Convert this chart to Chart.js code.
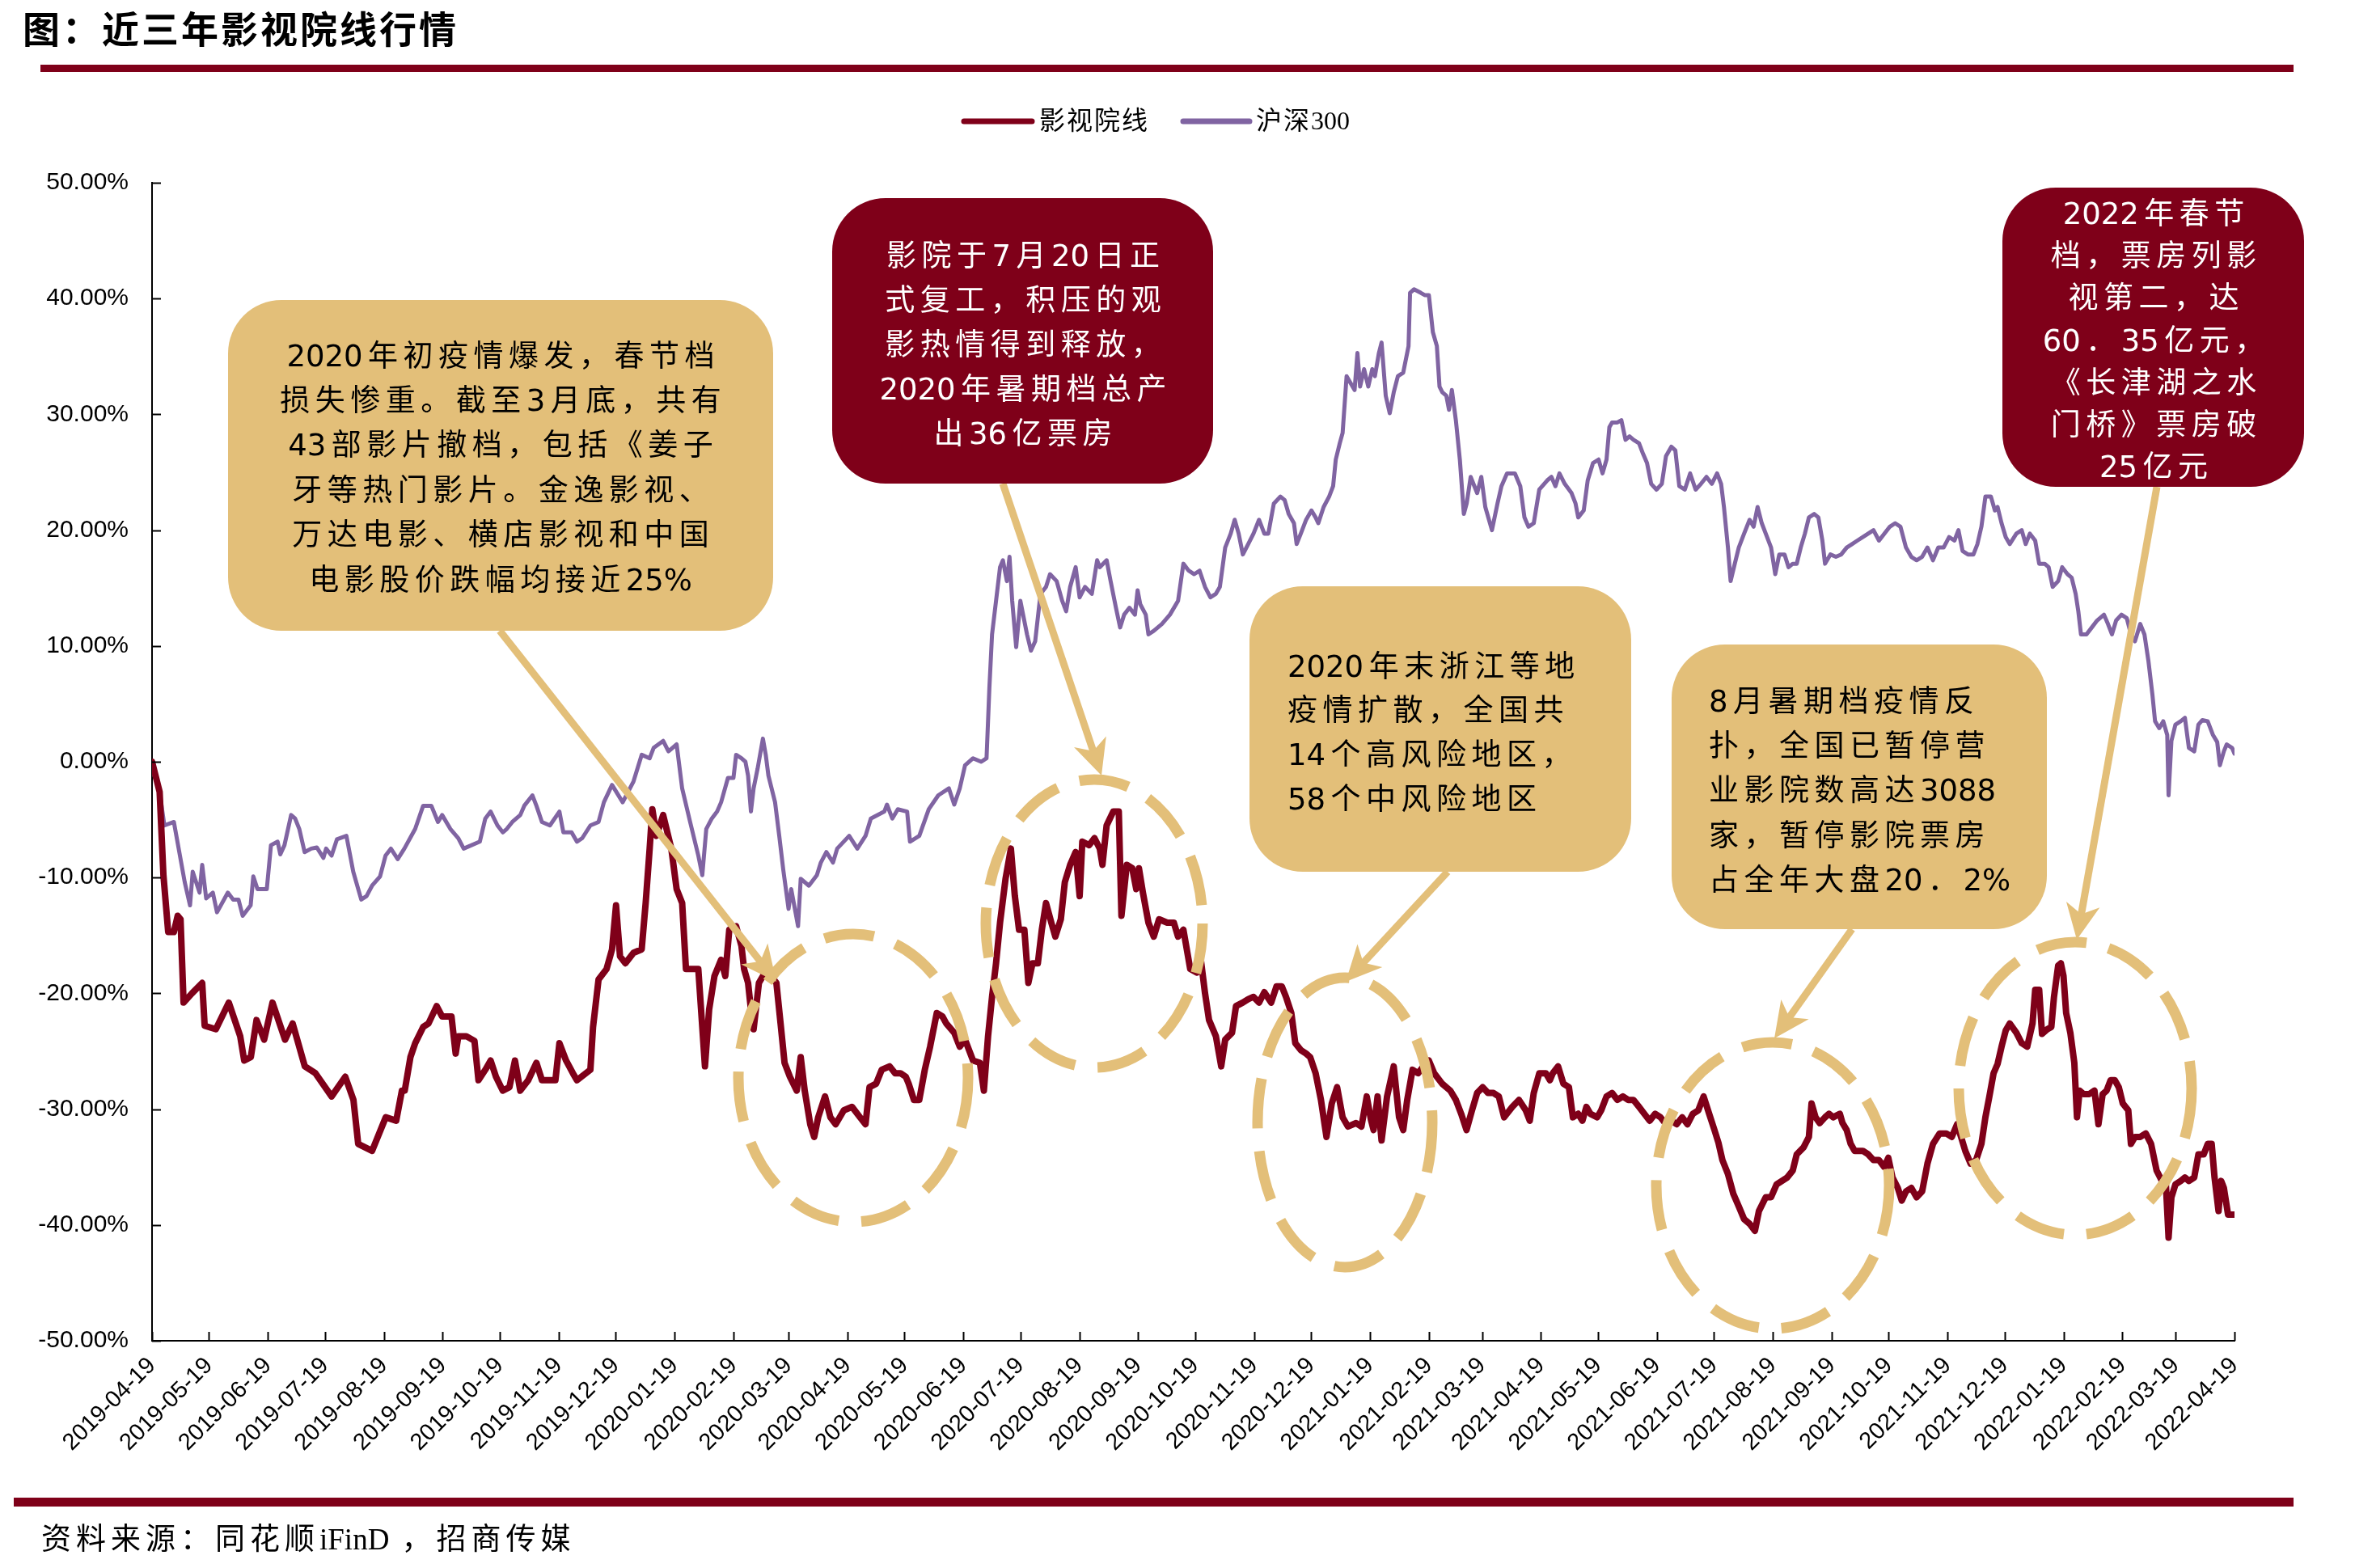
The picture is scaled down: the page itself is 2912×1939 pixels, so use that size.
<!DOCTYPE html>
<html>
<head>
<meta charset="utf-8">
<script src="https://cdn.jsdelivr.net/npm/chart.js@4.4.1/dist/chart.umd.min.js"></script>
<style>
  html, body { margin: 0; padding: 0; background: #fff; }
  #wrap { width: 2912px; height: 1939px; }
</style>
</head>
<body>
<div id="wrap"><canvas id="chart" width="2912" height="1939"></canvas></div>
<script>
// 起始日期，横轴按自然日计
const startDate = '2019-04-19';

const tickLabels = [
  '2019-04-19','2019-05-19','2019-06-19','2019-07-19','2019-08-19','2019-09-19','2019-10-19','2019-11-19','2019-12-19',
  '2020-01-19','2020-02-19','2020-03-19','2020-04-19','2020-05-19','2020-06-19','2020-07-19','2020-08-19','2020-09-19',
  '2020-10-19','2020-11-19','2020-12-19','2021-01-19','2021-02-19','2021-03-19','2021-04-19','2021-05-19','2021-06-19',
  '2021-07-19','2021-08-19','2021-09-19','2021-10-19','2021-11-19','2021-12-19','2022-01-19','2022-02-19','2022-03-19',
  '2022-04-19'
];

// [距起始日天数, 累计涨跌幅%]
const cinemaPoints = [
  [0,0],[4,-2.6],[6,-9.8],[8.5,-14.7],[11.5,-14.7],[13.5,-13.3],[15,-13.6],[16.6,-20.8],[21,-20],[26.4,-19.1],[27.7,-22.8],[33.6,-23.1],[40.4,-20.8],[46.4,-23.7],[48.5,-25.8],[52,-25.5],[55,-22.3],[59,-24],[63.4,-20.8],[70,-24],[74,-22.6],[80.4,-26.3],[86,-26.9],[94.5,-28.9],[101.7,-27.2],[106,-29.2],[108.5,-33],[115.8,-33.6],[123,-30.7],[128.5,-31],[131.5,-28.4],[133,-28.4],[136,-25.5],[138.5,-24.3],
  [142.7,-22.9],[145.5,-22.6],[149.8,-21.1],[152.7,-22],[155.5,-22],[157.6,-22],[159.8,-25.2],[161.2,-23.7],[165.4,-23.7],[169.7,-24.1],[171.8,-27.5],[175.4,-26.6],[178.2,-25.8],[181,-27.2],[184.6,-28.4],[188.1,-28.1],[191,-25.8],[193.8,-28.4],[198,-27.5],[202.3,-26],[205.2,-27.5],[209.4,-27.5],[212.3,-27.5],[214.4,-24.3],[217.9,-25.8],[221.5,-26.9],[223.6,-27.5],[230.7,-26.6],[232.1,-22.9],[235,-18.8],[239.2,-17.9],[242.1,-16.2],[244.2,-12.4],[246.3,-16.8],[249.1,-17.4],[253.4,-16.5],[257.7,-16.2],[259.8,-12.2],[261.9,-7.5],[263.3,-4.1],[265.5,-6.4],[269,-4.6],
  [273.3,-7.5],[276.1,-11],[279,-12.2],[281,-17.9],[286.1,-17.9],[287.5,-17.9],[291,-26.3],[293.2,-21.4],[296,-18.5],[299.5,-17.1],[301.7,-18.5],[303.8,-14.5],[307.4,-14.2],[310.2,-15.9],[311.6,-17.9],[313.7,-19.1],[315.2,-21.4],[316.6,-23.1],[319.4,-19.1],[321.5,-18.5],[324.4,-18.2],[328.6,-19.1],[330.8,-22.6],[332.9,-26],[335.7,-27.2],[339.3,-28.4],[341.4,-25.5],[343.5,-28.4],[346.4,-31.3],[348.5,-32.4],[350.6,-30.7],[354.2,-28.9],[357,-30.7],[359.8,-31.3],[364.1,-30.1],[368.4,-29.8],[372.6,-30.7],[375.5,-31.3],[377.6,-28.1],[381.1,-27.8],[384,-26.6],[388.2,-26.3],[391.1,-26.9],[393.9,-26.9],[396.7,-27.2],[398.2,-27.8],[401,-29.2],[403.8,-29.2],[406.7,-26.6],[409.5,-24.6],[413,-21.7],
  [416,-22],[418,-22.6],[422.2,-23.4],[425.1,-24.6],[427.9,-24],[432.1,-25.8],[435.7,-26],[437.8,-28.4],[440,-23.7],[442.1,-20.3],[444.2,-17.4],[446.3,-13.9],[449.2,-10.1],[452,-7.5],[454.1,-11.6],[456.3,-14.5],[459.1,-14.5],[461.2,-19.1],[463.4,-17.4],[466.2,-17.4],[468.3,-14.5],[470.5,-12.2],[473.3,-13.9],[475.4,-15.1],[478.3,-13.6],[480.4,-10.4],[483.2,-8.9],[486.1,-7.8],[488.2,-11.6],[489.6,-6.9],[493.2,-7.2],[496,-6.6],[498.8,-7.5],[500.2,-8.9],[502.4,-5.5],[505.9,-4.3],[508.8,-4.3],[510.2,-13.3],[513,-8.9],[515.9,-9.2],[518,-11],[519.4,-9.2],[521.5,-11.3],[524.4,-13.9],[527.2,-15.1],[530,-13.6],[534.3,-13.9],[537.8,-13.9],[540,-15.1],[542.8,-14.5],[546.4,-17.9],[549.9,-18.2],[552,-17.1],[554.2,-20],[556.3,-22.3],
  [559.9,-23.7],[562.7,-26.3],[564.8,-24],[568.4,-23.4],[570.5,-21.1],[574,-20.8],[576.9,-20.5],[579.7,-20.3],[582.6,-20.8],[585.4,-19.9],[589,-20.8],[591.8,-19.4],[594.6,-19.4],[596.8,-20.3],[599.6,-21.7],[601.7,-24.3],[604.6,-24.9],[607.4,-25.2],[609.5,-25.5],[612.4,-26.9],[615.2,-29.2],[618.1,-32.4],[620.9,-29.5],[623.7,-28.1],[626.6,-30.7],[629.4,-31.5],[633.7,-31.2],[636.5,-31.5],[639.3,-28.9],[641.5,-30.9],[642.9,-31.8],[645,-28.9],[647.1,-32.7],[650,-28.9],[653.5,-26.3],[656.3,-30.7],[658.5,-31.8],[660.6,-29.2],[663.4,-26.6],[666.3,-26.9],[669.1,-26.3],[672,-25.8],[674.8,-26.9],[679,-27.8],[683.3,-28.4],[686.2,-29.2],[689,-30.4],[691.8,-31.8],[694.7,-30.1],
  [697.4,-28.6],[700.3,-28.1],[703.1,-28.6],[706,-28.6],[708.8,-28.9],[711.6,-30.7],[715.9,-29.8],[719.4,-29.2],[723,-30.1],[725.1,-31],[727.2,-28.6],[730.1,-26.9],[733.6,-26.9],[735.7,-27.5],[737.2,-26.9],[740,-26.3],[742.8,-27.8],[745.7,-28.1],[747.8,-30.7],[750.6,-30.4],[752.8,-31],[754.9,-29.8],[757,-30.4],[760.6,-30.7],[762.7,-30.1],[765.5,-28.9],[768.4,-28.6],[771.2,-29.2],[774.1,-28.9],[776.9,-29.2],[779.7,-29.2],[782.6,-29.8],[785.4,-30.4],[788.2,-31],[791.1,-30.4],[793.9,-30.7],[796.8,-31.3],[799.6,-31],[802.4,-31.3],[805.3,-30.7],[808.1,-31.3],[810.9,-30.4],[813.8,-30.1],[816.6,-28.9],[819.5,-30.4],[822.3,-31.8],[824.4,-32.9],[826.5,-34.4],[829.4,-35.6],[832.2,-37.3],[835.1,-38.4],[837.9,-39.5],
  [840.8,-39.9],[843.6,-40.5],[845.7,-38.8],[849.3,-37.6],[852.1,-37.6],[855,-36.5],[857.8,-36.2],[860.6,-35.9],[863.5,-35.3],[865.6,-33.9],[869.2,-33.3],[872,-32.4],[873.4,-29.5],[875.5,-30.7],[877.7,-31.2],[880.5,-30.7],[882.6,-30.4],[884.8,-30.7],[888.3,-30.4],[889.7,-31.2],[891.9,-31.8],[894,-33],[896.1,-33.6],[900.4,-33.6],[903.2,-33.9],[906,-34.4],[908.9,-34.4],[911.7,-35],[913.8,-34.2],[916,-35.9],[918.8,-36.8],[920.9,-37.9],[923.1,-37.1],[925.9,-36.8],[928.7,-37.6],[931.6,-37.1],[934.4,-34.7],[937.3,-33],[940.8,-32.1],[944.3,-32.1],[947.2,-32.4],[950,-31.3],[952.1,-32.4],[954.3,-33.6],[957.1,-34.7],[960,-34.4],[962.8,-33],[964.9,-30.7],[967,-28.9],[969.2,-26.9],[971.3,-26.1],[973.4,-24.6],[975.6,-23.2],[977.7,-22.6],
  [981.2,-23.4],[984,-24.3],[986.9,-24.6],[989.7,-22.6],[991.1,-19.7],[993.2,-19.7],[994.7,-23.5],[997.5,-23.1],[999.6,-22.9],[1001,-20.3],[1003.2,-17.6],[1004.6,-17.4],[1006,-18.5],[1007.4,-21.7],[1009.6,-23.4],[1011.7,-26],[1013.1,-30.7],[1014.5,-28.4],[1016.6,-28.7],[1019.5,-28.7],[1022.3,-28.4],[1024.4,-31.3],[1026.6,-28.7],[1028.7,-28.4],[1030.8,-27.5],[1033,-27.5],[1035.1,-28.1],[1037.2,-29.5],[1040.1,-30.1],[1041.5,-33],[1043.6,-32.4],[1046.4,-32.4],[1049.3,-32.1],[1052.1,-33],[1055,-35.3],[1057.8,-36.2],[1059.9,-36.5],[1061.3,-41.1],[1062.8,-37.6],[1064.9,-36.5],[1067.7,-36.2],[1069.9,-35.9],[1072,-36.2],[1074.8,-35.9],[1077,-33.9],[1079.8,-33.9],[1081.9,-33],[1084,-33],[1085.5,-35.9],[1087.6,-38.8],[1089,-36.2],[1090.4,-36.8],[1092.6,-39.1],[1094.7,-39.1],[1096,-39.1]
];

const hs300Points = [
  [0,0],[1,-1.1],[3.7,-2.3],[6.5,-5.5],[11.5,-5.2],[17.2,-10.4],[20,-12.4],[21.4,-9.5],[25,-11.3],[26.4,-8.9],[28.5,-11.8],[32,-11.3],[34.2,-13],[39.9,-11.3],[42.7,-11.9],[45.5,-11.9],[47.7,-13.3],[51.9,-12.4],[53.3,-9.9],[55.5,-11],[60.4,-11],[62.6,-7.2],[66.1,-6.9],[67.5,-8],[69.7,-7.2],[73.2,-4.6],[75.3,-4.9],[77.5,-5.8],[80.3,-7.8],[83.8,-7.5],[86.7,-7.4],[90.2,-8.3],[91.6,-7.5],[94.5,-8.1],[97.3,-6.7],[102.3,-6.4],[105.9,-9.5],[110.1,-11.9],[112.9,-11.6],[115.8,-10.7],[120,-9.9],[122.9,-8.1],[125.7,-7.5],[129.3,-8.4],[132.8,-7.5],
  [138.5,-5.8],[142.7,-3.8],[147,-3.8],[150.5,-5.2],[152.7,-4.6],[157,-5.8],[161.2,-6.6],[164,-7.5],[172.5,-6.9],[175.4,-4.9],[178.2,-4.3],[181.8,-5.5],[184.6,-6.1],[186.7,-5.8],[189.6,-5.2],[193.8,-4.6],[195.9,-3.8],[200.2,-2.9],[202.3,-3.8],[205.2,-5.2],[209.4,-5.5],[214.4,-4.3],[216.5,-6.1],[220.8,-6.1],[223.6,-6.9],[226.4,-6.6],[230.7,-5.5],[235,-5.2],[237.8,-3.5],[242.1,-2],[247.7,-3.5],[253.4,-1.7],[257.7,0.6],[261.9,0.3],[264,1.2],[269,1.8],[271.8,0.9],[276.1,1.5],
  [279,-2.3],[283.2,-5.2],[287.5,-8.1],[289.6,-9.8],[291.7,-5.8],[294.6,-4.9],[297.4,-4.3],[299.5,-3.5],[303.1,-1.4],[306,-1.4],[307.4,0.6],[310.2,0.3],[312.3,0],[313.7,-1.2],[315.2,-4.3],[316.6,-2.3],[318.7,-0.6],[321.5,2],[323,0.6],[324.4,-1.2],[327.9,-3.5],[330.1,-6.4],[332.2,-9.3],[335,-12.7],[336.4,-11],[340,-14.2],[341.4,-10.1],[345.7,-10.7],[349.9,-9.8],[352,-8.7],[354.9,-7.8],[358.4,-8.7],[360.6,-7.5],[366.9,-6.4],[371.2,-7.5],[375.5,-6.4],[378.3,-4.9],[385.4,-4.3],[386.8,-3.7],[389.6,-4.9],[392.5,-4.1],[397.4,-4.3],[398.9,-6.9],[403.8,-6.4],[408.8,-4.1],[413.8,-2.9],
  [419.4,-2.3],[422.2,-3.7],[425.1,-2.3],[427.9,-0.3],[432.1,0.3],[436.4,0],[439.2,0.3],[440.7,6.4],[442.1,11],[444.2,13.9],[446.3,16.8],[447.8,17.4],[449.9,15.6],[451.3,17.7],[452.7,13.9],[454.8,9.9],[457,13.9],[460.5,11],[462.6,9.6],[464.8,10.4],[467.6,14.5],[470.5,15.1],[472.6,16.2],[476.1,15.6],[479,13.9],[481.1,13],[483.2,15.1],[486.1,16.8],[488.2,14.2],[491,15.1],[494.6,14.5],[497.4,17.4],[498.8,16.8],[502.4,17.4],[504.5,15.6],[507.3,13.3],[509.5,11.6],[511.6,12.7],[514.4,13.3],[517.3,12.7],[518.7,14.8],[520.1,13.6],[523,12.7],[524.4,11],[527.2,11.3],[531.5,11.9],[535.7,12.7],[540,13.9],[542.8,17.1],[545.6,16.5],[548.5,16.2],[551.3,16.5],[554.2,15.1],
  [557,14.2],[559.9,14.5],[562,15.1],[564.8,18.5],[567.7,19.7],[569.8,20.9],[571.9,19.7],[574.1,17.9],[576.9,18.8],[579.7,19.7],[582.6,20.9],[585.4,19.7],[587.5,19.7],[590.4,22.3],[593.9,22.9],[596.1,22.6],[598.2,21.4],[601,20.6],[602.4,18.8],[604.6,19.7],[607.4,20.9],[610.2,21.7],[612.4,21.1],[613.8,20.6],[616.6,22],[619.5,22.9],[621.6,23.8],[623,26.1],[625.1,27.5],[626.6,28.4],[628.7,33.3],[630.8,32.7],[632.9,32.1],[634.4,35.3],[635.8,32.4],[637.9,33.9],[640.1,32.4],[642.2,33.9],[643.6,33.3],[645.7,35.3],[647.1,36.2],[649.3,31.6],[651.4,30.1],[653.5,31.9],[655.7,33.3],[658.5,33.6],[661.3,35.9],[662.1,40.5],[664.2,40.8],[667.7,40.5],[669.8,40.3],[672,40.3],[674.1,37.1],[676.2,35.9],[677.6,32.4],[679.1,31.9],[681.2,31.6],[682.6,30.4],[684.1,32.1],[686.2,29.5],[688.3,26.1],[690.4,21.4],[691.9,22.3],[694,24.6],
  [697.4,23.2],[699.6,24.6],[701.7,22],[705.2,20],[708.1,22.3],[710.2,23.8],[713.1,24.9],[717.3,24.9],[720.1,23.8],[722.3,21.1],[724.4,20.3],[727.2,20.6],[730.1,23.5],[734.3,24.3],[736.5,24.6],[738.6,23.8],[740.7,24.9],[743.5,24],[747.1,23.2],[749.2,22.3],[750.6,21.1],[753.5,21.7],[755.6,24.3],[758.4,25.8],[761.3,26.1],[763.4,24.9],[765.5,26.1],[767,28.9],[768.4,29.3],[771.2,29.3],[773.3,29.5],[775.5,27.8],[777.6,28.1],[779.7,27.8],[782.6,27.5],[784.7,26.6],[786.8,25.8],[789,24],[791.8,23.5],[794.6,24],[796.8,26.4],[799.6,27.2],[801.7,26.9],[803.8,23.8],[806.7,23.5],[809.5,24.9],[812.4,23.5],[815.2,24],[818.1,24.6],[820.9,24],[823.7,24.9],[825.8,24],[827.3,22],[829.4,18.5],[830.8,15.6],[833,17.1],[835.1,18.5],
  [837.9,19.7],[840.8,20.9],[842.9,20.3],[845,22],[847.2,20.6],[849.3,19.7],[852.1,18.5],[854.3,16.2],[856.4,17.9],[859.2,17.9],[861.3,16.8],[863.5,17.1],[865.6,17.1],[867.7,18.5],[869.9,19.7],[872,21.1],[874.8,21.4],[877,21.1],[879.1,19.1],[880.5,17.1],[883.3,17.9],[886.2,17.7],[889,17.9],[891.9,18.5],[894.7,18.8],[897.5,19.1],[900.4,19.4],[903.2,19.7],[906,20],[908.9,19.1],[911.7,19.7],[914.6,20.3],[917.4,20.6],[920.2,20.3],[923.1,18.5],[925.9,17.7],[928.7,17.4],[931.6,17.7],[934.4,18.5],[937.3,17.4],[940.1,18.5],[942.9,18.5],[945.8,19.4],[948.6,19.1],[950.7,20],[952.9,18.2],[955.7,17.9],[958.6,17.9],[960.7,18.8],[962.8,20.3],[964.9,22.9],[967.8,22.9],[969.9,21.7],[971.3,22],[973.4,20.6],[975.6,19.4],[977.7,18.8],
  [981.2,19.7],[984,20],[986.1,18.8],[988.3,19.7],[991.1,19.1],[993.2,17.1],[996.1,17.1],[998.2,16.8],[1000.3,15.1],[1003.2,15.6],[1005.3,16.8],[1008.1,16.2],[1010.3,15.9],[1012.4,14.5],[1013.8,13],[1015.2,11],[1018.1,11],[1020.9,11.6],[1023.7,12.2],[1027.3,12.7],[1029.4,11.9],[1031.5,11],[1033.7,12.2],[1036.5,12.7],[1039.3,12.4],[1041.5,11],[1043.6,10.4],[1046.4,11.9],[1048.6,11],[1050.7,8.7],[1052.8,5.8],[1054.2,3.5],[1056.4,2.9],[1058.5,3.5],[1060.6,2.3],[1061.3,-2.9],[1062.8,1.8],[1064.9,3.2],[1067.7,3.5],[1069.9,3.8],[1072,1.2],[1074.8,0.9],[1077,3.2],[1079.1,3.6],[1081.9,3.5],[1084.7,2.3],[1086.9,1.7],[1088.3,-0.3],[1090.4,0.9],[1091.9,1.5],[1094.7,1.2],[1096,0.7]
];

const RED = '#7f0019';
const PURPLE = '#8064a2';
const GOLD = '#e3bf79';

// 标注框：box = [left, top, right, bottom]
const notes = [
  { box: [282, 371, 956, 780], fill: GOLD, color: '#000', align: 'center', x: 619, y: 443, lh: 55.4,
    lines: ['2020年初疫情爆发，春节档', '损失惨重。截至3月底，共有', '43部影片撤档，包括《姜子', '牙等热门影片。金逸影视、', '万达电影、横店影视和中国', '电影股价跌幅均接近25%'],
    arrow: [618, 780, 960, 1214] },
  { box: [1029, 245, 1500, 598], fill: RED, color: '#fff', align: 'center', x: 1265, y: 319, lh: 55.2,
    lines: ['影院于7月20日正', '式复工，积压的观', '影热情得到释放，', '2020年暑期档总产', '出36亿票房'],
    arrow: [1240, 598, 1362, 959] },
  { box: [1545, 725, 2017, 1078], fill: GOLD, color: '#000', align: 'left', x: 1592, y: 827, lh: 54.7,
    lines: ['2020年末浙江等地', '疫情扩散，全国共', '14个高风险地区，', '58个中风险地区'],
    arrow: [1790, 1078, 1664, 1214] },
  { box: [2067, 797, 2531, 1149], fill: GOLD, color: '#000', align: 'left', x: 2113, y: 870, lh: 55.3,
    lines: ['8月暑期档疫情反', '扑，全国已暂停营', '业影院数高达3088', '家，暂停影院票房', '占全年大盘20．2%'],
    arrow: [2290, 1149, 2194, 1284] },
  { box: [2476, 232, 2849, 602], fill: RED, color: '#fff', align: 'center', x: 2663, y: 267, lh: 52.3,
    lines: ['2022年春节', '档，票房列影', '视第二，达', '60．35亿元，', '《长津湖之水', '门桥》票房破', '25亿元'],
    arrow: [2667, 602, 2568, 1162] }
];

// 虚线椭圆 [cx, cy, rx, ry]
const rings = [
  [1055, 1333, 142, 178],
  [1353, 1142, 134, 178],
  [1663, 1388, 108, 179],
  [2192, 1466, 144, 177],
  [2566, 1346, 144, 181]
];

const dayMs = 864e5;
const tickDays = tickLabels.map(d => (Date.parse(d) - Date.parse(startDate)) / dayMs);

const isAscii = c => c !== undefined && c.charCodeAt(0) < 128;

// 中文字符之间加字距，连续的西文字符不加
function spacedText(ctx, str, x, y, spacing, align) {
  const chars = Array.from(str);
  const widths = chars.map(c => ctx.measureText(c).width);
  const gaps = chars.map((c, i) => i === chars.length - 1 ? 0 : (isAscii(c) && isAscii(chars[i + 1]) ? 0 : spacing));
  const total = widths.reduce((a, b) => a + b, 0) + gaps.reduce((a, b) => a + b, 0);
  let cx = align === 'center' ? x - total / 2 : x;
  ctx.textAlign = 'left';
  chars.forEach((c, i) => {
    ctx.fillText(c, cx, y);
    cx += widths[i] + gaps[i];
  });
}

function drawArrow(ctx, x1, y1, x2, y2) {
  const ang = Math.atan2(y2 - y1, x2 - x1);
  const len = 44, half = 21;
  const bx = x2 - Math.cos(ang) * len, by = y2 - Math.sin(ang) * len;
  ctx.strokeStyle = GOLD;
  ctx.lineWidth = 9;
  ctx.lineCap = 'butt';
  ctx.beginPath();
  ctx.moveTo(x1, y1);
  ctx.lineTo(x2 - Math.cos(ang) * 30, y2 - Math.sin(ang) * 30);
  ctx.stroke();
  ctx.fillStyle = GOLD;
  ctx.beginPath();
  ctx.moveTo(x2, y2);
  ctx.lineTo(bx + Math.sin(ang) * half, by - Math.cos(ang) * half);
  ctx.lineTo(x2 - Math.cos(ang) * 32, y2 - Math.sin(ang) * 32);
  ctx.lineTo(bx - Math.sin(ang) * half, by + Math.cos(ang) * half);
  ctx.closePath();
  ctx.fill();
}

const decor = {
  id: 'decor',
  beforeDraw(chart) {
    const ctx = chart.ctx;
    ctx.save();
    ctx.fillStyle = '#fff';
    ctx.fillRect(0, 0, chart.width, chart.height);
    ctx.restore();
  },
  afterDraw(chart) {
    const ctx = chart.ctx;
    const ca = chart.chartArea;
    ctx.save();

    // 标题与分隔线
    ctx.fillStyle = '#000';
    ctx.font = 'bold 46px "Noto Sans CJK SC"';
    ctx.textBaseline = 'middle';
    spacedText(ctx, '图：近三年影视院线行情', 28, 36, 3, 'left');
    ctx.fillStyle = RED;
    ctx.fillRect(50, 80, 2786, 9);
    ctx.fillRect(17, 1852, 2819, 11);

    // 资料来源
    ctx.fillStyle = '#000';
    ctx.font = '37px "Liberation Serif", "Noto Sans CJK SC"';
    spacedText(ctx, '资料来源：同花顺iFinD ，招商传媒', 51, 1906, 6, 'left');

    // 图例
    ctx.lineCap = 'round';
    ctx.lineWidth = 7;
    ctx.strokeStyle = RED;
    ctx.beginPath(); ctx.moveTo(1192, 150); ctx.lineTo(1276, 150); ctx.stroke();
    ctx.strokeStyle = PURPLE;
    ctx.beginPath(); ctx.moveTo(1463, 150); ctx.lineTo(1545, 150); ctx.stroke();
    ctx.font = '32px "Liberation Serif", "Noto Sans CJK SC"';
    spacedText(ctx, '影视院线', 1285, 152, 2, 'left');
    spacedText(ctx, '沪深300', 1553, 152, 2, 'left');

    // 向内的刻度线
    ctx.strokeStyle = '#000';
    ctx.lineWidth = 2;
    ctx.lineCap = 'butt';
    const ys = chart.scales.y, xs = chart.scales.x;
    ys.ticks.forEach(t => {
      const py = Math.round(ys.getPixelForValue(t.value)) + 0.5;
      ctx.beginPath(); ctx.moveTo(ca.left, py); ctx.lineTo(ca.left + 11, py); ctx.stroke();
    });
    xs.ticks.forEach(t => {
      const px = Math.round(xs.getPixelForValue(t.value)) + 0.5;
      ctx.beginPath(); ctx.moveTo(px, ca.bottom); ctx.lineTo(px, ca.bottom - 11); ctx.stroke();
    });

    // 虚线椭圆
    ctx.strokeStyle = GOLD;
    ctx.lineWidth = 13;
    ctx.setLineDash([62, 28]);
    rings.forEach(r => {
      ctx.beginPath();
      ctx.ellipse(r[0], r[1], r[2], r[3], 0, 0, Math.PI * 2);
      ctx.stroke();
    });
    ctx.setLineDash([]);

    // 箭头与文字框
    notes.forEach(n => drawArrow(ctx, ...n.arrow));
    ctx.font = '37px "DejaVu Sans", "Noto Sans CJK SC"';
    ctx.textBaseline = 'middle';
    notes.forEach(n => {
      const [l, t, r, b] = n.box;
      ctx.fillStyle = n.fill;
      ctx.beginPath();
      ctx.roundRect(l, t, r - l, b - t, 66);
      ctx.fill();
      ctx.fillStyle = n.color;
      n.lines.forEach((line, i) => spacedText(ctx, line, n.x, n.y + i * n.lh, 6.5, n.align));
    });
    ctx.restore();
  }
};

const chart = new Chart(document.getElementById('chart'), {
  type: 'line',
  data: {
    datasets: [
      {
        label: '影视院线',
        data: cinemaPoints.map(p => ({ x: p[0], y: p[1] })),
        borderColor: RED,
        borderWidth: 8,
        pointRadius: 0,
        tension: 0,
        borderJoinStyle: 'round',
        borderCapStyle: 'round'
      },
      {
        label: '沪深300',
        data: hs300Points.map(p => ({ x: p[0], y: p[1] })),
        borderColor: PURPLE,
        borderWidth: 5,
        pointRadius: 0,
        tension: 0,
        borderJoinStyle: 'round',
        borderCapStyle: 'round'
      }
    ]
  },
  options: {
    responsive: false,
    animation: false,
    devicePixelRatio: 1,
    layout: { padding: { left: 0, right: 149, top: 226, bottom: 0 } },
    plugins: { legend: { display: false }, tooltip: { enabled: false } },
    scales: {
      x: {
        type: 'linear',
        min: 0,
        max: tickDays[tickDays.length - 1],
        afterBuildTicks: s => { s.ticks = tickDays.map(v => ({ value: v })); },
        afterFit: s => { s.height = 281; },
        grid: { display: false, drawTicks: false },
        border: { display: true, color: '#000', width: 2 },
        ticks: {
          autoSkip: false,
          minRotation: 45,
          maxRotation: 45,
          padding: 14,
          color: '#000',
          font: { family: 'Liberation Sans', size: 29 },
          callback: (v, i) => tickLabels[i]
        }
      },
      y: {
        min: -50,
        max: 50,
        afterFit: s => { s.width = 188; },
        grid: { display: false, drawTicks: false },
        border: { display: true, color: '#000', width: 2 },
        ticks: {
          stepSize: 10,
          padding: 29,
          color: '#000',
          font: { family: 'Liberation Sans', size: 30 },
          callback: v => v.toFixed(2) + '%'
        }
      }
    }
  },
  plugins: [decor]
});
</script>
</body>
</html>
